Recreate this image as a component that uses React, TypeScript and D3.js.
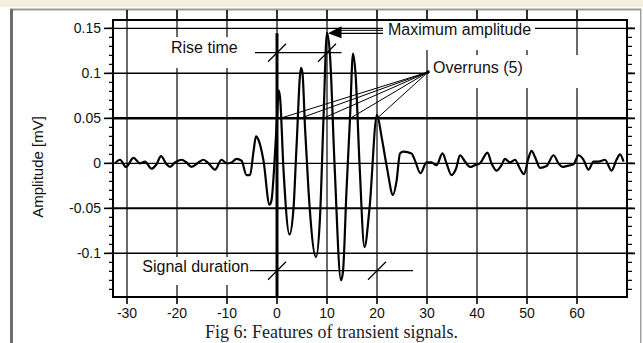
import React from "react";
import * as d3 from "d3";

// ---- data ----
const signalTime = [
  -32.4, -31.4, -30.2, -28.7, -27.4, -26.4, -25.1, -24.1, -23.2, -22.1, -21.4, -20.4, -19.1, -18.1, -17.1,
  -15.7, -14.7, -13.7, -12.4, -11.1, -10.1, -9.1, -8.1, -7.1, -6.1, -5.4, -4.7, -4.2, -3.7, -2.7, -1.5,
  -1.1, -0.4, 0.0, 0.3, 0.6, 1.3, 2.5, 3.3, 3.9, 4.8, 5.1, 5.6, 6.3, 7.8, 8.6, 9.3, 10.0, 10.6, 11.5,
  12.8, 13.2, 13.9, 14.6, 15.2, 15.7, 16.5, 17.5, 18.5, 20.0, 20.9, 22.0, 23.2, 23.9, 24.6, 25.3, 26.9,
  27.6, 28.7, 29.9, 30.9, 31.9, 33.1, 33.9, 34.9, 35.8, 36.6, 37.6, 38.6, 39.6, 40.6, 42.1, 42.9, 43.9,
  44.9, 45.6, 46.6, 47.6, 48.6, 49.4, 50.3, 50.9, 51.6, 52.6, 53.9, 55.3, 56.3, 57.1, 57.9, 59.3, 60.3,
  61.3, 62.3, 63.3, 64.3, 65.6, 66.9, 67.9, 68.6, 69.3,
];
const signalAmplitude = [
  0, 0.004, -0.004, 0.006, 0, 0.002, -0.006, -0.001, 0.008, -0.001, -0.004, 0.001, 0.004, 0.001, -0.004,
  0.001, 0.004, 0, -0.007, 0.004, 0, 0.001, 0.005, 0.003, -0.013, -0.013, 0.013, 0.03, 0.026, 0.003, -0.046,
  -0.041, 0.011, 0.05, 0.081, 0.074, -0.007, -0.079, -0.05, 0.018, 0.106, 0.1, 0.04, -0.03, -0.104, -0.06, 0.05, 0.145, 0.12, 0.0,
  -0.13, -0.12, -0.03, 0.05, 0.122, 0.1, 0.0, -0.093, -0.05, 0.054, 0.03, -0.005, -0.035, -0.02, 0.011, 0.013, 0.011,
  0.003, -0.011, 0.001, 0.001, -0.002, 0.011, 0, -0.013, -0.006, 0.009, 0.002, -0.004, -0.002, 0, 0.012, 0, -0.008,
  -0.002, 0.005, 0.001, 0.004, -0.006, -0.012, 0.006, 0.014, 0.007, -0.005, -0.003, 0.009, 0, -0.004, -0.003, -0.001, 0.009,
  0.004, -0.007, 0.002, 0.002, 0.004, -0.008, 0.004, 0.01, 0.002,
];

const xTicks = [-30, -20, -10, 0, 10, 20, 30, 40, 50, 60];
const xTickLabels = ["-30", "-20", "-10", "0", "10", "20", "30", "40", "50", "60"];
const yTicks = [-0.1, -0.05, 0, 0.05, 0.1, 0.15];
const yTickLabels = ["-0.1", "-0.05", "0", "0.05", "0.1", "0.15"];
const yGridWidths = [1.5, 2, 1.4, 2.5, 1.5, 1.4];
const yMinorTicks = d3.range(-14, 16).map((d) => d / 100);

// annotation anchors (data units)
const riseTime = [0, 10];
const riseTimeLevel = 0.123;
const durationSpan = [0, 20];
const durationLevel = -0.1193;
const overrunX = [0.6, 4.6, 9.2, 14.6, 20.0];
const overrunLevel = 0.05;
const overrunAnchor = [30.2, 0.1014];
const maxAmpTip = [10.2, 0.1445];

const W = 643;
const H = 343;
const L = 113, R = 627, T = 20, B = 297;

export default function App() {
  const x = d3.scaleLinear().domain([-32.8, 70]).range([L, R]);
  const y = d3.scaleLinear().domain([-0.1485, 0.1593]).range([B, T]);
  const pts: [number, number][] = signalTime.map((t, i) => [t, signalAmplitude[i]]);
  const line = d3.line<[number, number]>().x((d) => x(d[0])).y((d) => y(d[1])).curve(d3.curveMonotoneX);
  const font = "'Liberation Sans', Arial, sans-serif";
  const slash = (cx: number, cy: number, k: string) => (
    <line key={k} x1={cx - 9} y1={cy + 9} x2={cx + 9} y2={cy - 9} stroke="#000" strokeWidth={1.3} />
  );
  const box = (x0: number, x1: number, y0: number, y1: number, k: string) => (
    <rect key={k} x={x(x0)} y={y(y0)} width={x(x1) - x(x0)} height={y(y1) - y(y0)} fill="#fff" />
  );
  return (
    <svg width={W} height={H} style={{ position: "absolute", left: 0, top: 0 }} xmlns="http://www.w3.org/2000/svg">
      <rect x={0} y={0} width={W} height={H} fill="#fff" />
      <rect x={0} y={0} width={W} height={7} fill="#f3f0df" />
      <rect x={10} y={8.5} width={631} height={2} fill="#9a9a9a" />
      <rect x={10} y={9} width={3} height={H - 9} fill="#6e6e6e" />
      <rect x={640} y={9} width={1.5} height={H - 9} fill="#a0a0a0" />

      {/* top ticks */}
      {xTicks.map((t) => (
        <line key={"tt" + t} x1={x(t)} x2={x(t)} y1={10} y2={T} stroke="#000" strokeWidth={1.6} />
      ))}
      {/* vertical grid */}
      {xTicks.map((t) => (
        <line key={"vg" + t} x1={x(t)} x2={x(t)} y1={T} y2={B} stroke="#2a2a2a" strokeWidth={1.4} />
      ))}
      {/* horizontal grid */}
      {yTicks.map((v, i) => (
        <line key={"hg" + v} x1={L} x2={R} y1={y(v)} y2={y(v)} stroke="#000" strokeWidth={yGridWidths[i]} />
      ))}

      {/* label background boxes */}
      {box(-22.4, -6.4, 0.1403, 0.1059, "b1")}
      {box(21.2, 51.6, 0.159, 0.1259, "b2")}
      {box(30.2, 70, 0.1203, 0.0837, "b3")}
      {box(-27.8, -5, -0.1041, -0.1352, "b4")}

      {/* x=0 marker */}
      <line x1={x(0)} x2={x(0)} y1={y(maxAmpTip[1])} y2={B} stroke="#000" strokeWidth={3} />

      {/* signal */}
      <path d={line(pts) || ""} fill="none" stroke="#000" strokeWidth={2.2} strokeLinejoin="round" />

      {/* rise time */}
      <line x1={x(-4.4)} x2={x(12.9)} y1={y(riseTimeLevel)} y2={y(riseTimeLevel)} stroke="#000" strokeWidth={1.2} />
      {riseTime.map((t, i) => slash(x(t), y(riseTimeLevel), "rs" + i))}
      <text x={x(-21.2)} y={y(riseTimeLevel + 0.0055)} dy="0.35em" fontFamily={font} fontSize={16} fill="#111">Rise time</text>

      {/* signal duration */}
      <line x1={x(-5.4)} x2={x(27.2)} y1={y(durationLevel)} y2={y(durationLevel)} stroke="#000" strokeWidth={1.2} />
      {durationSpan.map((t, i) => slash(x(t), y(durationLevel), "ds" + i))}
      <text x={x(-5.6)} y={y(durationLevel + 0.0052)} dy="0.35em" textAnchor="end" fontFamily={font} fontSize={16} fill="#111">Signal duration</text>

      {/* overruns */}
      {overrunX.map((t, i) => (
        <line key={"ov" + i} x1={x(overrunAnchor[0])} y1={y(overrunAnchor[1])} x2={x(t)} y2={y(overrunLevel)} stroke="#000" strokeWidth={1} />
      ))}
      <circle cx={x(overrunAnchor[0])} cy={y(overrunAnchor[1])} r={1.8} fill="#000" />
      <text x={x(31.2)} y={y(0.107)} dy="0.35em" fontFamily={font} fontSize={16} fill="#111">Overruns (5)</text>

      {/* maximum amplitude */}
      <line x1={x(12.8)} x2={x(21.2)} y1={y(maxAmpTip[1])} y2={y(maxAmpTip[1])} stroke="#000" strokeWidth={1.2} />
      <line x1={x(12.8)} x2={x(21.2)} y1={y(maxAmpTip[1]) - 3} y2={y(maxAmpTip[1]) - 3} stroke="#000" strokeWidth={1} />
      <path
        d={`M${x(maxAmpTip[0])},${y(maxAmpTip[1])} L${x(12.9)},${y(maxAmpTip[1]) - 7} L${x(12.9)},${y(maxAmpTip[1]) + 5} Z`}
        fill="#000"
      />
      <text x={x(22.2)} y={y(0.1483)} dy="0.35em" fontFamily={font} fontSize={16} fill="#111">Maximum amplitude</text>

      {/* frame */}
      <rect x={L} y={T} width={R - L} height={B - T} fill="none" stroke="#000" strokeWidth={2} />

      {/* left axis ticks */}
      {yMinorTicks.map((v) => (
        <line key={"lm" + v} x1={L - 4} x2={L} y1={y(v)} y2={y(v)} stroke="#000" strokeWidth={1.2} />
      ))}
      {yTicks.map((v) => (
        <line key={"lM" + v} x1={L - 9} x2={L} y1={y(v)} y2={y(v)} stroke="#000" strokeWidth={1.6} />
      ))}
      {/* right axis ticks */}
      {yMinorTicks.map((v) => (
        <line key={"rm" + v} x1={R} x2={R + 5} y1={y(v)} y2={y(v)} stroke="#000" strokeWidth={1.2} />
      ))}
      {yTicks.map((v) => (
        <line key={"rM" + v} x1={R} x2={R + 8} y1={y(v)} y2={y(v)} stroke="#000" strokeWidth={1.8} />
      ))}
      {/* bottom ticks */}
      {xTicks.map((t) => (
        <line key={"bt" + t} x1={x(t)} x2={x(t)} y1={B} y2={B + 7} stroke="#000" strokeWidth={1.6} />
      ))}

      {/* tick labels */}
      {yTicks.map((v, i) => (
        <text key={"yl" + v} x={L - 12} y={y(v)} dy="0.36em" textAnchor="end" fontFamily={font} fontSize={14} fill="#111">
          {yTickLabels[i]}
        </text>
      ))}
      {xTicks.map((t, i) => (
        <text key={"xl" + t} x={x(t)} y={B + 16} dy="0.36em" textAnchor="middle" fontFamily={font} fontSize={14} fill="#111">
          {xTickLabels[i]}
        </text>
      ))}
      <text transform={`translate(37.5,${y(-0.004)}) rotate(-90)`} dy="0.36em" textAnchor="middle" fontFamily={font} fontSize={15} fill="#111">
        Amplitude [mV]
      </text>

      {/* caption */}
      <text x={205} y={338} fontFamily="'Liberation Serif', 'Times New Roman', serif" fontSize={18} fill="#1c1c2a">
        Fig 6: Features of transient signals.
      </text>
    </svg>
  );
}
